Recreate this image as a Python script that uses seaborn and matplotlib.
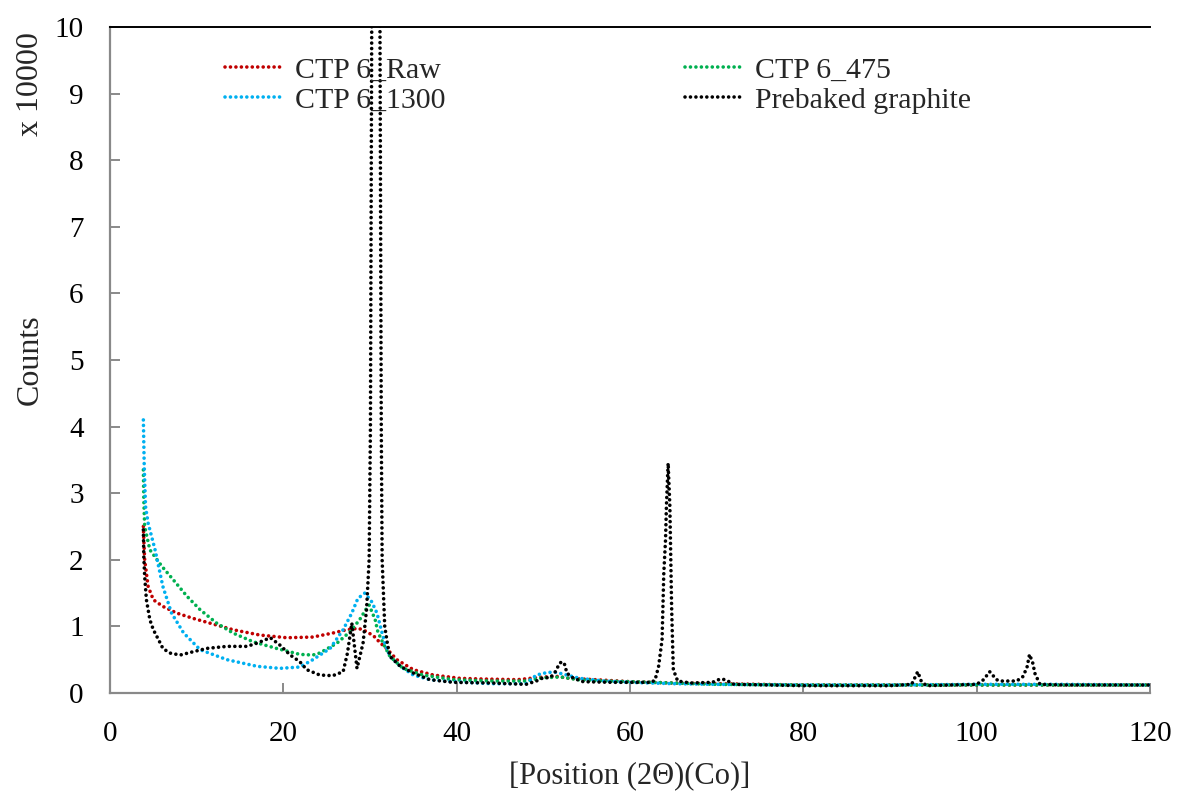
import matplotlib
matplotlib.use("Agg")
import matplotlib.pyplot as plt
import seaborn as sns

# X-ray diffraction patterns (Co radiation), intensity in units of 10000 counts
raw_x = [3.85, 3.9, 4.0, 4.4, 5.0, 6.1, 7.7, 9.6, 11.5, 14.2, 17.3, 20.4, 23.4, 25.7,
         27.3, 28.6, 29.2, 30.4, 31.2, 31.9, 33.1, 35.0, 37.3, 40.4, 43, 47, 50, 51.5,
         53, 56, 60, 65, 70, 80, 90, 100, 110, 120]
raw_y = [2.5, 2.3, 2.0, 1.6, 1.4, 1.3, 1.2, 1.12, 1.05, 0.95, 0.87, 0.83, 0.84, 0.9,
         0.95, 0.97, 0.95, 0.86, 0.75, 0.67, 0.5, 0.35, 0.27, 0.22, 0.21, 0.2, 0.24, 0.25,
         0.22, 0.2, 0.17, 0.15, 0.14, 0.12, 0.12, 0.12, 0.12, 0.12]

t475_x = [3.85, 3.9, 4.0, 4.6, 6.0, 7.3, 8.9, 10.4, 12.3, 14.2, 16.5, 19.2, 21.9, 23.4,
          24.2, 26.2, 27.7, 28.8, 29.6, 29.9, 30.6, 30.9, 31.5, 32.3, 33.8, 36.1, 39.6,
          44, 48, 50, 52, 54, 57, 60, 65, 70, 80, 90, 100, 110, 120]
t475_y = [3.35, 2.9, 2.5, 2.15, 1.9, 1.7, 1.45, 1.25, 1.05, 0.9, 0.77, 0.67, 0.58, 0.57,
          0.6, 0.75, 0.92, 1.1, 1.27, 1.32, 1.1, 0.92, 0.75, 0.55, 0.37, 0.27, 0.2,
          0.18, 0.18, 0.23, 0.24, 0.2, 0.18, 0.17, 0.15, 0.13, 0.12, 0.12, 0.12, 0.12, 0.12]

t1300_x = [3.85, 3.95, 4.1, 4.4, 5.2, 6.1, 7.1, 8.5, 10.4, 13.5, 17.0, 19.6, 21.9, 23.4,
           25.4, 26.9, 27.9, 28.6, 29.4, 30.2, 30.8, 31.2, 31.7, 32.3, 33.5, 35.0, 36.9,
           39.6, 44, 48, 49.2, 50.5, 51.5, 52.7, 54.2, 57, 60, 65, 70, 80, 90, 100, 110, 120]
t1300_y = [4.1, 3.4, 2.8, 2.55, 2.15, 1.6, 1.2, 0.9, 0.65, 0.5, 0.4, 0.37, 0.39, 0.5,
           0.67, 0.95, 1.2, 1.42, 1.5, 1.37, 1.2, 1.0, 0.75, 0.55, 0.4, 0.27, 0.2,
           0.17, 0.14, 0.14, 0.27, 0.31, 0.31, 0.27, 0.22, 0.18, 0.16, 0.14, 0.13, 0.12, 0.12, 0.13, 0.13, 0.12]

graphite_x = [3.85, 3.9, 4.0, 4.2, 4.6, 5.0, 5.6, 6.1, 6.9, 8.1, 9.6, 11.2, 13.5, 15.8,
              17.0, 18.5, 19.6, 20.8, 21.9, 22.7, 24.2, 25.7, 26.9, 27.4, 27.9, 28.5,
              29.2, 29.6, 29.9, 30.05, 30.2, 30.5, 30.7, 30.9, 31.15, 31.3, 31.4, 31.7,
              32.0, 32.3, 33.5, 35.0, 36.9, 39.6, 44, 48, 49.2, 50.0, 50.8, 51.3, 51.9,
              52.2, 52.5, 52.7, 53.5, 54.6, 58, 62.5, 62.9, 63.3, 63.7, 63.8, 63.9, 64.1,
              64.2, 64.4, 64.6, 64.7, 64.8, 64.9, 65.0, 65.5, 67, 69.5, 70.4, 71, 72, 80,
              90, 92.5, 93.2, 93.6, 94.2, 100, 100.8, 101.5, 102.3, 102.7, 104.6, 105.3,
              105.8, 106.1, 106.5, 106.7, 107.3, 110, 120]
graphite_y = [2.45, 2.05, 1.75, 1.4, 1.1, 0.95, 0.8, 0.67, 0.6, 0.57, 0.62, 0.67, 0.7, 0.7,
              0.75, 0.83, 0.72, 0.57, 0.47, 0.35, 0.27, 0.26, 0.32, 0.6, 1.05, 0.37,
              0.75, 1.25, 2.0, 4.0, 10.0, 22.0, 26.0, 22.0, 10.0, 4.0, 2.0, 1.0,
              0.75, 0.55, 0.4, 0.3, 0.2, 0.16, 0.15, 0.13, 0.18, 0.23, 0.23, 0.3, 0.45,
              0.47, 0.42, 0.3, 0.22, 0.17, 0.16, 0.16, 0.2, 0.4, 0.8, 1.3, 1.8, 2.3,
              2.8, 3.45, 2.8, 2.05, 1.3, 0.8, 0.35, 0.18, 0.15, 0.16, 0.21, 0.2, 0.13, 0.11,
              0.11, 0.13, 0.32, 0.18, 0.11, 0.13, 0.2, 0.32, 0.2, 0.18, 0.18, 0.24,
              0.38, 0.58, 0.44, 0.3, 0.13, 0.12, 0.12]

series = [
    ("CTP 6_Raw", raw_x, raw_y, "#C00000"),
    ("CTP 6_475", t475_x, t475_y, "#00B050"),
    ("CTP 6_1300", t1300_x, t1300_y, "#00B0F0"),
    ("Prebaked graphite", graphite_x, graphite_y, "#000000"),
]

sns.set_style("white")
plt.rcParams["font.family"] = ["Liberation Serif", "DejaVu Serif"]
plt.rcParams["lines.dash_capstyle"] = "round"
plt.rcParams["lines.solid_capstyle"] = "round"

fig = plt.figure(figsize=(11.77, 7.92), dpi=100)
ax = fig.add_axes([110 / 1177, 99 / 792, 1040 / 1177, 666 / 792])

dotted = (0, (0.01, 1.5))
lines = {}
for name, xs, ys, col in series:
    sns.lineplot(x=xs, y=ys, ax=ax, color=col, lw=2.6, linestyle=dotted,
                 sort=False, estimator=None, label=name, legend=False)
    lines[name] = ax.lines[-1]

ax.set_xlim(0, 120)
ax.set_ylim(0, 10)
ax.set_xticks(range(0, 121, 20))
ax.set_yticks(range(0, 11, 1))

axis_grey = "#898989"
for side in ("left", "bottom"):
    ax.spines[side].set_color(axis_grey)
    ax.spines[side].set_linewidth(1.6)
ax.spines["right"].set_visible(False)
ax.spines["top"].set_color("black")
ax.spines["top"].set_linewidth(1.4)

ax.tick_params(axis="both", direction="in", length=7, width=1.4, color=axis_grey,
               labelsize=21, labelcolor="black")
ax.tick_params(axis="y", pad=19, left=True)
ax.tick_params(axis="x", pad=20, bottom=True)

ax.set_xlabel("[Position (2\u0398)(Co)]", fontsize=22, labelpad=11)
ax.set_ylabel("Counts", fontsize=23, labelpad=7)
fig.text(31 / 1177, 1 - 84 / 792, "x 10000", rotation=90, fontsize=23,
         ha="center", va="center")

order = ["CTP 6_Raw", "CTP 6_1300", "CTP 6_475", "Prebaked graphite"]
leg = ax.legend([lines[n] for n in order], order, ncol=2, frameon=False,
                loc="upper left", bbox_to_anchor=((225 - 110) / 1040, (693 - 57) / 666),
                borderaxespad=0, borderpad=0, fontsize=21.5, handlelength=1.95,
                handletextpad=0.4, columnspacing=8.0, labelspacing=0.1)

fig.savefig("out.png", dpi=100)
